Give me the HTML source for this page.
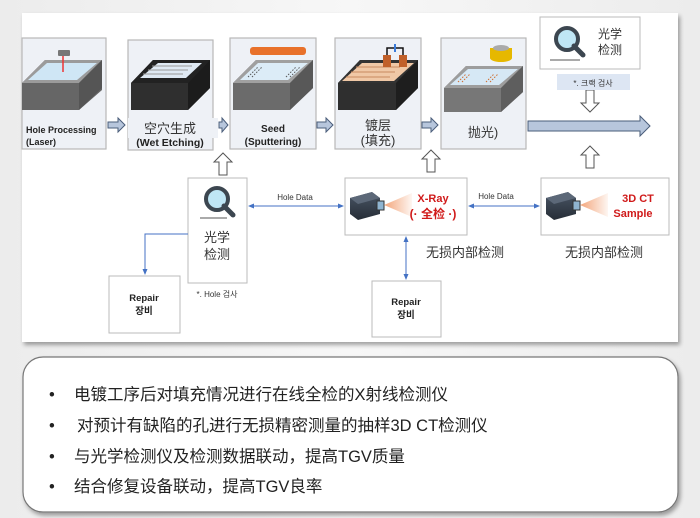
<!DOCTYPE html>
<html><head><meta charset="utf-8"><style>
html,body{margin:0;padding:0;width:700px;height:518px;overflow:hidden;background:linear-gradient(90deg,#ececec,#f7f7f7 50%,#ececec);}
svg{display:block}
text{font-family:"Liberation Sans","Noto Sans CJK SC",sans-serif;}
</style></head><body>
<svg width="700" height="518" viewBox="0 0 700 518" xmlns="http://www.w3.org/2000/svg">
<defs>
<filter id="sh" x="-5%" y="-5%" width="110%" height="115%"><feDropShadow dx="2" dy="3" stdDeviation="2" flood-color="#000" flood-opacity="0.35"/></filter>
<linearGradient id="cone" x1="1" x2="0" y1="0" y2="0"><stop offset="0" stop-color="#f3a57a" stop-opacity="0.1"/><stop offset="1" stop-color="#f3a57a"/></linearGradient>
<linearGradient id="gry" x1="0" x2="0" y1="0" y2="1"><stop offset="0" stop-color="#9a9a9a"/><stop offset="1" stop-color="#6e6e6e"/></linearGradient>
<linearGradient id="cm" x1="0" x2="0" y1="0" y2="1"><stop offset="0" stop-color="#4a5666"/><stop offset="1" stop-color="#262d36"/></linearGradient>
<marker id="ah" markerWidth="6" markerHeight="6" refX="5" refY="3" orient="auto-start-reverse"><path d="M0,0.5 L6,3 L0,5.5z" fill="#4472c4"/></marker>
<g id="mag"><circle cx="0" cy="0" r="11" fill="#bfe6f5" stroke="#3c4650" stroke-width="4"/><path d="M7,7 L16,16" stroke="#3c4650" stroke-width="5" stroke-linecap="round"/></g>
<g id="cam"><path d="M0,8 L22,2 L30,8 L30,24 L8,30 L0,24z" fill="url(#cm)"/><path d="M0,8 L22,2 L30,8 L8,14z" fill="#5c6878"/><rect x="27" y="11" width="7" height="9" fill="#8fb4d0" stroke="#333" stroke-width="1"/><path d="M34,15 L62,3 L62,27z" fill="url(#cone)"/></g>
</defs>

<!-- main panel -->
<rect x="22" y="13" width="656" height="329" fill="#fff" filter="url(#sh)"/>

<!-- top process boxes -->
<g stroke="#b8b8b8" stroke-width="1.2" fill="#eef1f6">
<rect x="22" y="38" width="84" height="111"/>
<rect x="128" y="40" width="85" height="110"/>
<rect x="230" y="38" width="86" height="111"/>
<rect x="335" y="38" width="86" height="111"/>
<rect x="441" y="38" width="85" height="111"/>
</g>
<!-- block 1 -->
<g><path d="M22,83 L45,60 L102,60 L102,90 L79,110 L22,110z" fill="#666"/><path d="M22,83 L45,60 L102,60 L79,83z" fill="#9b9b9b"/><path d="M28,80 L47,63 L97,63 L77,80z" fill="#cfe6f5"/><path d="M79,83 L102,60 L102,88 L79,110z" fill="#555"/><rect x="58" y="50" width="12" height="6" fill="#777" rx="1"/><path d="M63,56 V72" stroke="#e33" stroke-width="1.5"/></g>
<!-- block 2 -->
<g><path d="M131,83 L153,60 L210,60 L210,88 L188,110 L131,110z" fill="#2f2f2f"/><path d="M131,83 L153,60 L210,60 L188,83z" fill="#222"/><path d="M140,78 L158,63 L202,63 L186,78z" fill="#dfe9f3"/><path d="M143,74 h40 M148,70 h40 M152,66 h40" stroke="#999" stroke-width="1"/><path d="M188,83 L210,60 L210,88 L188,110z" fill="#1c1c1c"/></g>
<!-- block 3 -->
<g><path d="M233,83 L256,60 L313,60 L313,88 L290,110 L233,110z" fill="#6b6b6b"/><path d="M233,83 L256,60 L313,60 L290,83z" fill="#a0a0a0"/><path d="M240,80 L258,63 L308,63 L288,80z" fill="#dcecf7"/><path d="M290,83 L313,60 L313,88 L290,110z" fill="#585858"/><rect x="250" y="47" width="56" height="8" rx="3" fill="#e8712a"/><path d="M248,77 l10,-10 M252,77 l10,-10 M286,77 l10,-10 M290,77 l10,-10" stroke="#555" stroke-dasharray="1.5 1.5"/></g>
<!-- block 4 -->
<g><path d="M338,83 L360,60 L418,60 L418,88 L396,110 L338,110z" fill="#2f2f2f"/><path d="M338,83 L360,60 L418,60 L396,83z" fill="#333"/><path d="M342,81 L362,63 L414,63 L394,81z" fill="#f0c8a6"/><path d="M346,77 h44 M351,72 h44 M356,67 h44" stroke="#c98a60" stroke-width="1"/><path d="M396,83 L418,60 L418,88 L396,110z" fill="#1e1e1e"/><rect x="383" y="55" width="8" height="12" fill="#c0602a"/><rect x="399" y="55" width="8" height="12" fill="#c0602a"/><path d="M387,55 V48 H403 V55" fill="none" stroke="#111" stroke-width="1.5"/><path d="M395,44 V52" stroke="#3b7bd8" stroke-width="2"/></g>
<!-- block 5 -->
<g><path d="M444,88 L466,66 L523,66 L523,92 L501,112 L444,112z" fill="#777"/><path d="M444,88 L466,66 L523,66 L501,88z" fill="#9d9d9d"/><path d="M450,85 L468,69 L518,69 L499,85z" fill="#d6e8f5"/><path d="M501,88 L523,66 L523,92 L501,112z" fill="#5e5e5e"/><ellipse cx="501" cy="58" rx="11" ry="4" fill="#e6b800"/><rect x="490" y="48" width="22" height="10" fill="#e6b800"/><ellipse cx="501" cy="48" rx="8" ry="3" fill="#aaa"/><path d="M458,82 l8,-8 M462,82 l8,-8 M486,82 l8,-8 M490,82 l8,-8" stroke="#d06a2a" stroke-dasharray="1.5 1.5"/></g>

<!-- labels -->
<text x="26" y="133" font-size="9" font-weight="bold" fill="#222">Hole Processing</text>
<text x="26" y="145" font-size="9" font-weight="bold" fill="#222">(Laser)</text>
<rect x="128" y="118" width="90" height="20" fill="#eef1f6"/>
<text x="170" y="133" font-size="13" fill="#333" text-anchor="middle">空穴生成</text>
<text x="170" y="146" font-size="10.5" font-weight="bold" fill="#222" text-anchor="middle">(Wet Etching)</text>
<text x="273" y="132" font-size="10" font-weight="bold" fill="#222" text-anchor="middle">Seed</text>
<text x="273" y="145" font-size="10" font-weight="bold" fill="#222" text-anchor="middle">(Sputtering)</text>
<text x="378" y="130" font-size="13" fill="#333" text-anchor="middle">镀层</text>
<text x="378" y="145" font-size="13" fill="#333" text-anchor="middle">(填充)</text>
<text x="483" y="137" font-size="13" fill="#333" text-anchor="middle">抛光)</text>

<!-- block arrows (hollow-ish blue) -->
<g fill="#b7c6dc" stroke="#4a5d7a" stroke-width="1">
<path d="M108,122 h10 v-4 l7,7 l-7,7 v-4 h-10z"/>
<path d="M219,122 h3 v-4 l6,7 l-6,7 v-4 h-3z"/>
<path d="M317,122 h9 v-4 l7,7 l-7,7 v-4 h-9z"/>
<path d="M422,122 h9 v-4 l7,7 l-7,7 v-4 h-9z"/>
<path d="M528,121 h112 v-5 l10,10 l-10,10 v-5 h-112z"/>
</g>
<g fill="#fff" stroke="#555" stroke-width="1">
<path d="M219,175 v-13 h-5 l9,-9 l9,9 h-5 v13z"/>
<path d="M427,172 v-13 h-5 l9,-9 l9,9 h-5 v13z"/>
<path d="M586,168 v-13 h-5 l9,-9 l9,9 h-5 v13z"/>
<path d="M586,90 v13 h-5 l9,9 l9,-9 h-5 v-13z"/>
</g>

<!-- top optical box -->
<rect x="540" y="17" width="100" height="52" fill="#fff" stroke="#bbb"/>
<use href="#mag" x="567" y="39"/>
<path d="M550,60 h30" stroke="#555" stroke-width="1"/>
<text x="610" y="38" font-size="12" fill="#333" text-anchor="middle">光学</text>
<text x="610" y="54" font-size="12" fill="#333" text-anchor="middle">检测</text>
<rect x="557" y="74" width="73" height="16" fill="#dde6f3"/>
<text x="593" y="86" font-size="8" fill="#333" text-anchor="middle">*. 크랙 검사</text>

<!-- middle row -->
<rect x="188" y="178" width="59" height="105" fill="#fff" stroke="#bbb"/>
<use href="#mag" x="217" y="199"/>
<path d="M200,218 h27" stroke="#555"/>
<text x="217" y="242" font-size="13" fill="#333" text-anchor="middle">光学</text>
<text x="217" y="259" font-size="13" fill="#333" text-anchor="middle">检测</text>
<text x="217" y="297" font-size="8" fill="#333" text-anchor="middle">*. Hole 검사</text>

<rect x="345" y="178" width="122" height="57" fill="#fff" stroke="#bbb"/>
<use href="#cam" x="350" y="190"/>
<text x="433" y="202" font-size="11" font-weight="bold" fill="#d01a1a" text-anchor="middle">X-Ray</text>
<text x="433" y="218" font-size="12" font-weight="bold" fill="#d01a1a" text-anchor="middle">(· 全检 ·)</text>

<rect x="541" y="178" width="128" height="57" fill="#fff" stroke="#bbb"/>
<use href="#cam" x="546" y="190"/>
<text x="638" y="202" font-size="11" font-weight="bold" fill="#d01a1a" text-anchor="middle">3D CT</text>
<text x="633" y="217" font-size="11" font-weight="bold" fill="#d01a1a" text-anchor="middle">Sample</text>

<text x="465" y="257" font-size="13" fill="#333" text-anchor="middle">无损内部检测</text>
<text x="604" y="257" font-size="13" fill="#333" text-anchor="middle">无损内部检测</text>

<rect x="109" y="276" width="71" height="57" fill="#fff" stroke="#bbb"/>
<text x="144" y="301" font-size="9.5" font-weight="bold" fill="#222" text-anchor="middle">Repair</text>
<text x="144" y="314" font-size="9.5" font-weight="bold" fill="#222" text-anchor="middle">장비</text>
<rect x="372" y="281" width="69" height="56" fill="#fff" stroke="#bbb"/>
<text x="406" y="305" font-size="9.5" font-weight="bold" fill="#222" text-anchor="middle">Repair</text>
<text x="406" y="318" font-size="9.5" font-weight="bold" fill="#222" text-anchor="middle">장비</text>

<!-- connectors -->
<g stroke="#4472c4" stroke-width="1" fill="none">
<path d="M249,206 H343" marker-start="url(#ah)" marker-end="url(#ah)"/>
<path d="M469,206 H539" marker-start="url(#ah)" marker-end="url(#ah)"/>
<path d="M406,237 V279" marker-start="url(#ah)" marker-end="url(#ah)"/>
<path d="M188,234 H145 V274" marker-end="url(#ah)"/>
</g>
<text x="295" y="200" font-size="8" fill="#333" text-anchor="middle">Hole Data</text>
<text x="496" y="199" font-size="8" fill="#333" text-anchor="middle">Hole Data</text>

<!-- bottom rounded box -->
<rect x="23" y="357" width="655" height="155" rx="20" fill="#fff" stroke="#777" stroke-width="1.2" filter="url(#sh)"/>
<g font-size="16.5" fill="#222">
<text x="49" y="400">•</text><text x="74" y="400">电镀工序后对填充情况进行在线全检的X射线检测仪</text>
<text x="49" y="431">•</text><text x="77" y="431">对预计有缺陷的孔进行无损精密测量的抽样3D CT检测仪</text>
<text x="49" y="462">•</text><text x="74" y="462">与光学检测仪及检测数据联动，提高TGV质量</text>
<text x="49" y="492">•</text><text x="74" y="492">结合修复设备联动，提高TGV良率</text>
</g>
</svg>
</body></html>
